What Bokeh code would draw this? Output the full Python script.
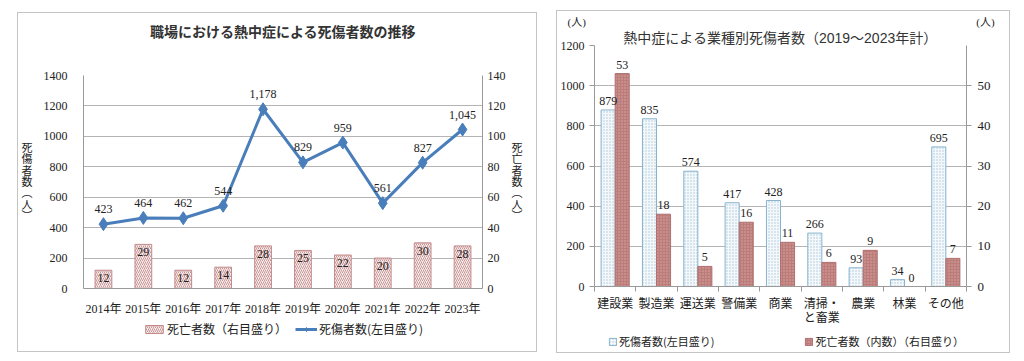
from bokeh.plotting import figure
from bokeh.models import (Range1d, LinearAxis, FixedTicker, Legend, LegendItem,
                          ColumnDataSource, Spacer, FactorRange, Title)
from bokeh.layouts import row, column
from bokeh.embed import file_html
from bokeh.resources import INLINE
from bokeh.core.properties import value

# ---------------- data ----------------
years = ["2014年", "2015年", "2016年", "2017年", "2018年", "2019年", "2020年", "2021年", "2022年", "2023年"]
deaths = [12, 29, 12, 14, 28, 25, 22, 20, 30, 28]
casualties = [423, 464, 462, 544, 1178, 829, 959, 561, 827, 1045]

industries = ["建設業", "製造業", "運送業", "警備業", "商業", "清掃・\nと畜業", "農業", "林業", "その他"]
ind_casualties = [879, 835, 574, 417, 428, 266, 93, 34, 695]
ind_deaths = [53, 18, 5, 16, 11, 6, 9, 0, 7]

left_ticks = [0, 200, 400, 600, 800, 1000, 1200, 1400]
right_ticks = [0, 20, 40, 60, 80, 100, 120, 140]
r_left_ticks = [0, 200, 400, 600, 800, 1000, 1200]
r_right_ticks = [0, 10, 20, 30, 40, 50]

SERIF = "'Liberation Serif', 'Noto Sans CJK JP'"
SANS = "'Liberation Sans', 'Noto Sans CJK JP'"
JP = "'Noto Sans CJK JP'"
TXT = "#222222"
GRID = "#b4b4b4"
AX = "#9a9a9a"
BOX = {"border": "1px solid #c4c4c4"}
NAN = float("nan")

BAR1 = dict(fill_color="#f8eeee", line_color="#c48a8a", line_width=1,
            hatch_pattern="/", hatch_color="#b57070", hatch_scale=4, hatch_weight=0.7)
LINE1 = dict(line_color="#4a7ebb", line_width=3)
MK1 = dict(marker="diamond", fill_color="#4a7ebb", line_color="#4a7ebb")
BLUE = dict(fill_color="#f4f8fb", line_color="#86b3cf", line_width=1,
            hatch_pattern=".", hatch_color="#a9c6d8", hatch_scale=3, hatch_weight=1)
RED = dict(fill_color="#bb7c7a", line_color="#b07070", line_width=1,
           hatch_pattern=".", hatch_color="#d9a9a5", hatch_scale=3, hatch_weight=1)


def legend_fig(width, height):
    f = figure(width=width, height=height, x_range=Range1d(0, 1), y_range=Range1d(0, 1),
               x_axis_location=None, y_axis_location=None, output_backend="svg",
               toolbar_location=None, min_border_left=0, min_border_right=0,
               min_border_top=0, min_border_bottom=0)
    f.outline_line_color = None
    f.xgrid.visible = False
    f.ygrid.visible = False
    return f


def style_legend(leg, size, spacing, gw, gh, lh):
    leg.padding = 0
    leg.margin = 0
    leg.spacing = spacing
    leg.border_line_color = None
    leg.background_fill_alpha = 0
    leg.glyph_width = gw
    leg.glyph_height = gh
    leg.label_height = lh
    leg.label_standoff = 2
    leg.label_text_font = JP
    leg.label_text_font_size = size
    leg.label_text_color = TXT


def vertical_label(axis, text, standoff):
    axis.axis_label = text
    axis.axis_label_orientation = "horizontal"
    axis.axis_label_text_font = SERIF
    axis.axis_label_text_font_size = "11px"
    axis.axis_label_text_font_style = "normal"
    axis.axis_label_text_line_height = 0.95
    axis.axis_label_text_color = TXT
    axis.axis_label_standoff = standoff


# ---------------- left chart ----------------
p1 = figure(width=518, height=305, x_range=FactorRange(*years), y_range=Range1d(0, 1400),
            output_backend="svg", toolbar_location=None,
            min_border_left=60, min_border_right=54, min_border_top=62, min_border_bottom=29)
p1.outline_line_color = None
p1.extra_y_ranges = {"right": Range1d(0, 140)}
p1.xgrid.grid_line_color = None
p1.ygrid.ticker = FixedTicker(ticks=left_ticks)
p1.ygrid.grid_line_color = GRID

p1.title.text = "職場における熱中症による死傷者数の推移"
p1.title.align = "center"
p1.title.standoff = 0
p1.title.text_font = JP
p1.title.text_font_style = "bold"
p1.title.text_font_size = "14px"
p1.title.text_color = "#333333"
p1.add_layout(Title(text=" ", text_font_size="1px", standoff=32), "above")

ax = p1.yaxis[0]
ax.ticker = FixedTicker(ticks=left_ticks)
ax.major_tick_line_color = None
ax.minor_tick_line_color = None
ax.axis_line_color = AX
ax.major_label_text_font = SERIF
ax.major_label_text_font_size = "12px"
ax.major_label_text_color = TXT
ax.major_label_standoff = 10
vertical_label(ax, "死\n傷\n者\n数\n︵\n人\n︶", 8)

xa = p1.xaxis[0]
xa.major_tick_line_color = None
xa.axis_line_color = AX
xa.major_label_text_font = SERIF
xa.major_label_text_font_size = "12px"
xa.major_label_text_color = TXT
xa.major_label_standoff = 7

rax = LinearAxis(y_range_name="right", ticker=FixedTicker(ticks=right_ticks))
rax.major_tick_out = 0
rax.major_tick_in = 0
rax.major_tick_line_color = None
rax.minor_tick_line_color = None
rax.axis_line_color = AX
rax.major_label_text_font = SERIF
rax.major_label_text_font_size = "12px"
rax.major_label_text_color = TXT
rax.major_label_standoff = 5
vertical_label(rax, "死\n亡\n者\n数\n︵\n人\n︶", 3)
p1.add_layout(rax, "right")

src1 = ColumnDataSource(dict(year=years, deaths=deaths, casualties=casualties,
                             dlab=[str(v) for v in deaths],
                             clab=[f"{v:,}" for v in casualties]))
p1.vbar(x="year", top="deaths", width=0.42, source=src1, y_range_name="right", **BAR1)
p1.line(x="year", y="casualties", source=src1, **LINE1)
p1.scatter(x="year", y="casualties", source=src1, size=13, **MK1)
p1.text(x="year", y="deaths", text="dlab", source=src1, y_range_name="right",
        text_align="center", text_baseline="top", y_offset=4,
        text_font=value("Liberation Serif"), text_font_size="12px", text_color=TXT)
p1.text(x="year", y="casualties", text="clab", source=src1,
        text_align="center", text_baseline="bottom", y_offset=-11,
        text_font=value("Liberation Serif"), text_font_size="12px", text_color=TXT)

# legend strip of the left chart (its frame lines up with the chart frame)
l1 = legend_fig(518, 33)
nan1 = ColumnDataSource(dict(x=[NAN], y=[NAN], top=[NAN]))
lb = l1.vbar(x="x", top="top", width=0.1, source=nan1, **BAR1)
ll = l1.line(x="x", y="y", source=nan1, **LINE1)
lm = l1.scatter(x="x", y="y", source=nan1, size=9, **MK1)
leg1 = Legend(items=[LegendItem(label="死亡者数（右目盛り）", renderers=[lb]),
                     LegendItem(label="死傷者数(左目盛り)", renderers=[ll, lm])],
              orientation="horizontal", location=(60, 14))
style_legend(leg1, "12px", 8, 22, 10, 14)
l1.add_layout(leg1, "center")

box1 = column(p1, l1, styles=BOX)

# ---------------- right chart ----------------
n = len(industries)
p2 = figure(width=452, height=322, x_range=Range1d(0, n), y_range=Range1d(0, 1200),
            output_backend="svg", toolbar_location=None,
            min_border_left=36, min_border_right=43, min_border_top=34, min_border_bottom=47)
p2.outline_line_color = None
p2.extra_y_ranges = {"right": Range1d(0, 60)}
p2.xgrid.grid_line_color = None
p2.ygrid.ticker = FixedTicker(ticks=r_left_ticks)
p2.ygrid.grid_line_color = GRID

p2.add_layout(Title(text="熱中症による業種別死傷者数（2019～2023年計）", align="center", standoff=0,
                    text_font=SANS, text_font_style="normal", text_font_size="14px",
                    text_color="#333333"), "above")
p2.add_layout(Title(text="(人)" + "\u3000" * 35 + "\u2002" + "(人)", align="left", offset=-27, standoff=0,
                    text_font=SERIF, text_font_style="normal", text_font_size="11px",
                    text_color=TXT), "above")

centers = [i + 0.5 for i in range(n)]
bounds = list(range(n + 1))
xa2 = p2.xaxis[0]
xa2.ticker = FixedTicker(ticks=centers, minor_ticks=bounds)
xa2.major_label_overrides = {c: lab for c, lab in zip(centers, industries)}
xa2.major_tick_line_color = None
xa2.minor_tick_out = 5
xa2.minor_tick_in = 0
xa2.minor_tick_line_color = AX
xa2.axis_line_color = AX
xa2.major_label_text_font = SANS
xa2.major_label_text_font_size = "12px"
xa2.major_label_text_line_height = 1.0
xa2.major_label_text_color = TXT
xa2.major_label_standoff = 4

ya2 = p2.yaxis[0]
ya2.ticker = FixedTicker(ticks=r_left_ticks)
ya2.major_tick_out = 5
ya2.major_tick_in = 0
ya2.major_tick_line_color = AX
ya2.minor_tick_line_color = None
ya2.axis_line_color = AX
ya2.major_label_text_font = SERIF
ya2.major_label_text_font_size = "12px"
ya2.major_label_text_color = TXT
ya2.major_label_standoff = 5

rax2 = LinearAxis(y_range_name="right", ticker=FixedTicker(ticks=r_right_ticks))
rax2.major_tick_out = 5
rax2.major_tick_in = 0
rax2.major_tick_line_color = AX
rax2.minor_tick_line_color = None
rax2.axis_line_color = AX
rax2.major_label_text_font = SERIF
rax2.major_label_text_font_size = "13px"
rax2.major_label_text_color = TXT
rax2.major_label_standoff = 6
p2.add_layout(rax2, "right")

bw = 0.34
src2 = ColumnDataSource(dict(xb=[c - bw / 2 for c in centers], xr=[c + bw / 2 for c in centers],
                             cas=ind_casualties, dea=ind_deaths,
                             clab=[str(v) for v in ind_casualties], dlab=[str(v) for v in ind_deaths]))
p2.vbar(x="xb", top="cas", width=bw, source=src2, **BLUE)
p2.vbar(x="xr", top="dea", width=bw, source=src2, y_range_name="right", **RED)
p2.text(x="xb", y="cas", text="clab", source=src2, text_align="center", text_baseline="bottom",
        y_offset=-5, text_font=value("Liberation Serif"), text_font_size="12px", text_color=TXT)
p2.text(x="xr", y="dea", text="dlab", source=src2, y_range_name="right", text_align="center",
        text_baseline="bottom", y_offset=-5, text_font=value("Liberation Serif"),
        text_font_size="12px", text_color=TXT)

# legend strip of the right chart (its frame lines up with the chart frame)
l2 = legend_fig(452, 19)
nan2 = ColumnDataSource(dict(x=[NAN], top=[NAN]))
lbb = l2.vbar(x="x", top="top", width=0.1, source=nan2, **BLUE)
lrb = l2.vbar(x="x", top="top", width=0.1, source=nan2, **RED)
leg2 = Legend(items=[LegendItem(label="死傷者数(左目盛り)", renderers=[lbb]),
                     LegendItem(label="死亡者数（内数）（右目盛り）", renderers=[lrb])],
              orientation="horizontal", location=(14, 3))
style_legend(leg2, "11px", 90, 9, 9, 12)
l2.add_layout(leg2, "center")

box2 = column(p2, l2, styles=BOX)

layout = row(Spacer(width=17), column(Spacer(height=12), box1), Spacer(width=19),
             column(Spacer(height=10), box2))
open("out.html", "w").write(file_html(layout, INLINE))
